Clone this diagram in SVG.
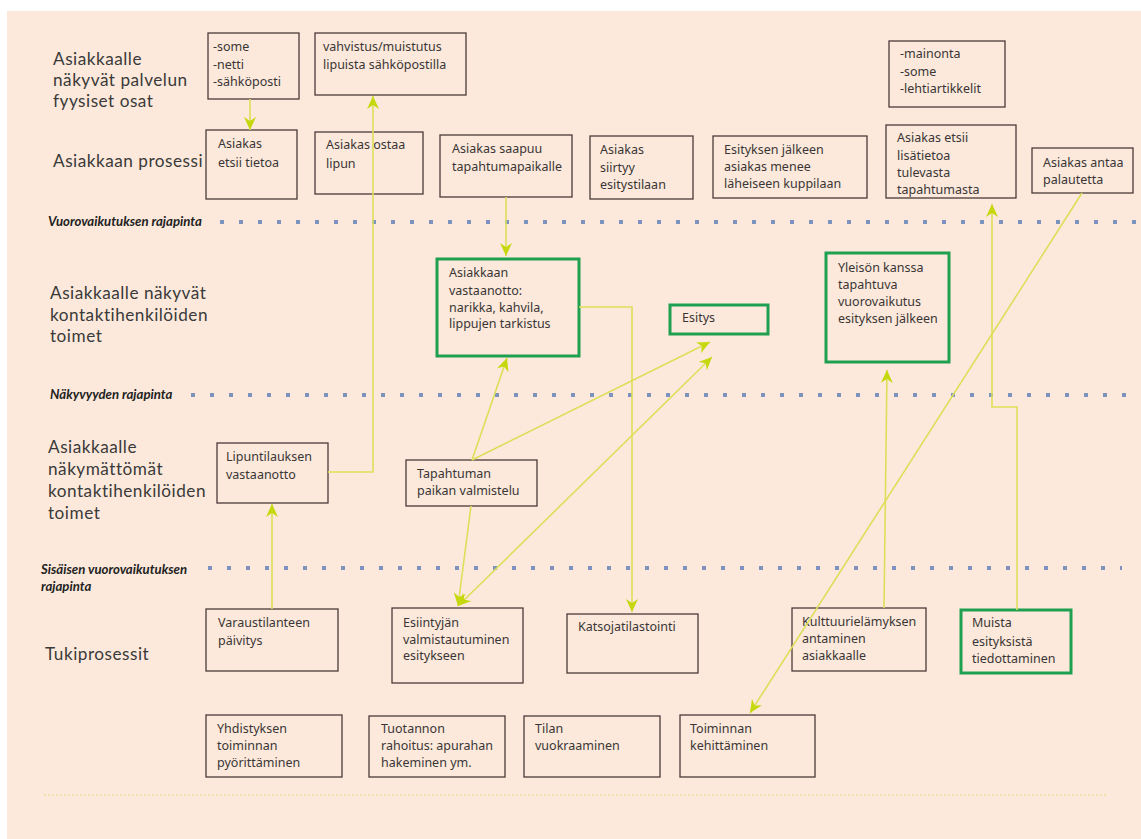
<svg xmlns="http://www.w3.org/2000/svg" width="1141" height="839" viewBox="0 0 1141 839">
  <style>
    .lane { font-family: Lato, "Noto Sans", sans-serif; font-size: 17.2px; letter-spacing: 0.5px; fill: #3a3a3a; }
    .bound { font-family: Lato, "Noto Sans", sans-serif; font-size: 13.2px; font-weight: bold; font-style: italic; fill: #222; }
    .box { fill: none; stroke: #4b3a3a; stroke-width: 1.3; }
    .hi { fill: none; stroke: #1fa050; stroke-width: 3; }
    .t { font-family: "Noto Sans", "Open Sans", sans-serif; font-size: 12.5px; fill: #3a3636; }
    .dots { stroke: #7b93bd; stroke-width: 4; stroke-dasharray: 4 15; fill: none; }
    .link { fill: none; stroke: #dcdf5a; stroke-width: 1.6; }
    .head { marker-end: url(#arr); }
  </style>
  <defs>
    <marker id="arr" markerUnits="userSpaceOnUse" markerWidth="14" markerHeight="12" refX="13" refY="6" orient="auto-start-reverse">
      <path d="M0,0 L13,6 L0,12 L4,6 z" fill="#c5d80e"/>
    </marker>
  </defs>

  <!-- page -->
  <rect width="1141" height="839" fill="#ffffff"/>
  <rect x="7" y="11" width="1134" height="828" fill="#fce9db"/>

  <!-- lane titles -->
  <g id="lanes">
    <text class="lane" x="53" y="65">Asiakkaalle</text>
    <text class="lane" x="53" y="86">näkyvät palvelun</text>
    <text class="lane" x="53" y="107">fyysiset osat</text>
    <text class="lane" x="53" y="167">Asiakkaan prosessi</text>
    <text class="lane" x="50" y="299">Asiakkaalle näkyvät</text>
    <text class="lane" x="50" y="321">kontaktihenkilöiden</text>
    <text class="lane" x="50" y="342">toimet</text>
    <text class="lane" x="48" y="453">Asiakkaalle</text>
    <text class="lane" x="48" y="475">näkymättömät</text>
    <text class="lane" x="48" y="497">kontaktihenkilöiden</text>
    <text class="lane" x="48" y="519">toimet</text>
    <text class="lane" x="45" y="660">Tukiprosessit</text>
  </g>

  <!-- boundary lines -->
  <g id="boundaries">
    <text class="bound" x="48" y="226">Vuorovaikutuksen rajapinta</text>
    <line class="dots" x1="220" y1="222" x2="1137" y2="222"/>
    <text class="bound" x="50" y="399">Näkyvyyden rajapinta</text>
    <line class="dots" x1="191" y1="395" x2="1126" y2="395"/>
    <text class="bound" x="41" y="574">Sisäisen vuorovaikutuksen</text>
    <text class="bound" x="41" y="591">rajapinta</text>
    <line class="dots" x1="208" y1="568" x2="1122" y2="568"/>
    <line x1="44" y1="795" x2="1108" y2="795" stroke="#f3dc9a" stroke-width="1.5" stroke-dasharray="2 2"/>
  </g>

  <!-- physical evidence -->
  <g id="n-some">
    <rect class="box" x="208" y="33" width="91" height="66"/>
    <text class="t" x="213" y="51">-some</text>
    <text class="t" x="213" y="69">-netti</text>
    <text class="t" x="213" y="86">-sähköposti</text>
  </g>
  <g id="n-vahvistus">
    <rect class="box" x="315" y="33" width="151" height="62"/>
    <text class="t" x="323" y="51">vahvistus/muistutus</text>
    <text class="t" x="323" y="69">lipuista sähköpostilla</text>
  </g>
  <g id="n-mainonta">
    <rect class="box" x="889" y="41" width="116" height="66"/>
    <text class="t" x="900" y="58">-mainonta</text>
    <text class="t" x="900" y="76">-some</text>
    <text class="t" x="900" y="93">-lehtiartikkelit</text>
  </g>

  <!-- customer actions -->
  <g id="n-etsii">
    <rect class="box" x="206" y="130" width="91" height="69"/>
    <text class="t" x="218" y="148">Asiakas</text>
    <text class="t" x="218" y="167">etsii tietoa</text>
  </g>
  <g id="n-ostaa">
    <rect class="box" x="315" y="132" width="108" height="62"/>
    <text class="t" x="326" y="149">Asiakas ostaa</text>
    <text class="t" x="326" y="168">lipun</text>
  </g>
  <g id="n-saapuu">
    <rect class="box" x="440" y="135" width="132" height="62"/>
    <text class="t" x="452" y="153">Asiakas saapuu</text>
    <text class="t" x="452" y="171">tapahtumapaikalle</text>
  </g>
  <g id="n-siirtyy">
    <rect class="box" x="590" y="136" width="103" height="63"/>
    <text class="t" x="600" y="154">Asiakas</text>
    <text class="t" x="600" y="172">siirtyy</text>
    <text class="t" x="600" y="189">esitystilaan</text>
  </g>
  <g id="n-kuppila">
    <rect class="box" x="713" y="136" width="154" height="62"/>
    <text class="t" x="724" y="154">Esityksen jälkeen</text>
    <text class="t" x="724" y="171">asiakas menee</text>
    <text class="t" x="724" y="188">läheiseen kuppilaan</text>
  </g>
  <g id="n-lisatietoa">
    <rect class="box" x="886" y="125" width="130" height="73"/>
    <text class="t" x="897" y="142">Asiakas etsii</text>
    <text class="t" x="897" y="160">lisätietoa</text>
    <text class="t" x="897" y="177">tulevasta</text>
    <text class="t" x="897" y="194">tapahtumasta</text>
  </g>
  <g id="n-palaute">
    <rect class="box" x="1032" y="148" width="101" height="45"/>
    <text class="t" x="1043" y="167">Asiakas antaa</text>
    <text class="t" x="1043" y="184">palautetta</text>
  </g>

  <!-- onstage actions -->
  <g id="n-vastaanotto">
    <rect class="hi" x="437" y="259" width="142" height="97"/>
    <text class="t" x="449" y="277">Asiakkaan</text>
    <text class="t" x="449" y="295">vastaanotto:</text>
    <text class="t" x="449" y="312">narikka, kahvila,</text>
    <text class="t" x="449" y="328">lippujen tarkistus</text>
  </g>
  <g id="n-esitys">
    <rect class="hi" x="670" y="305" width="98" height="29"/>
    <text class="t" x="682" y="322">Esitys</text>
  </g>
  <g id="n-yleiso">
    <rect class="hi" x="826" y="253" width="123" height="109"/>
    <text class="t" x="838" y="272">Yleisön kanssa</text>
    <text class="t" x="838" y="289">tapahtuva</text>
    <text class="t" x="838" y="306">vuorovaikutus</text>
    <text class="t" x="838" y="323">esityksen jälkeen</text>
  </g>

  <!-- backstage actions -->
  <g id="n-lipuntilaus">
    <rect class="box" x="217" y="443" width="111" height="60"/>
    <text class="t" x="226" y="461">Lipuntilauksen</text>
    <text class="t" x="226" y="479">vastaanotto</text>
  </g>
  <g id="n-valmistelu">
    <rect class="box" x="406" y="460" width="131" height="46"/>
    <text class="t" x="417" y="478">Tapahtuman</text>
    <text class="t" x="417" y="495">paikan valmistelu</text>
  </g>

  <!-- support processes -->
  <g id="n-varaus">
    <rect class="box" x="206" y="609" width="132" height="62"/>
    <text class="t" x="218" y="627">Varaustilanteen</text>
    <text class="t" x="218" y="645">päivitys</text>
  </g>
  <g id="n-esiintyja">
    <rect class="box" x="392" y="608" width="131" height="75"/>
    <text class="t" x="403" y="627">Esiintyjän</text>
    <text class="t" x="403" y="644">valmistautuminen</text>
    <text class="t" x="403" y="660">esitykseen</text>
  </g>
  <g id="n-tilastointi">
    <rect class="box" x="567" y="614" width="131" height="59"/>
    <text class="t" x="578" y="631">Katsojatilastointi</text>
  </g>
  <g id="n-kulttuuri">
    <rect class="box" x="792" y="608" width="134" height="63"/>
    <text class="t" x="802" y="626">Kulttuurielämyksen</text>
    <text class="t" x="802" y="643">antaminen</text>
    <text class="t" x="802" y="660">asiakkaalle</text>
  </g>
  <g id="n-muista">
    <rect class="hi" x="961" y="610" width="110" height="63"/>
    <text class="t" x="972" y="627">Muista</text>
    <text class="t" x="972" y="646">esityksistä</text>
    <text class="t" x="972" y="663">tiedottaminen</text>
  </g>
  <g id="n-yhdistys">
    <rect class="box" x="206" y="715" width="136" height="62"/>
    <text class="t" x="217" y="733">Yhdistyksen</text>
    <text class="t" x="217" y="750">toiminnan</text>
    <text class="t" x="217" y="767">pyörittäminen</text>
  </g>
  <g id="n-rahoitus">
    <rect class="box" x="369" y="716" width="136" height="61"/>
    <text class="t" x="381" y="733">Tuotannon</text>
    <text class="t" x="381" y="750">rahoitus: apurahan</text>
    <text class="t" x="381" y="767">hakeminen ym.</text>
  </g>
  <g id="n-tila">
    <rect class="box" x="524" y="716" width="136" height="61"/>
    <text class="t" x="535" y="733">Tilan</text>
    <text class="t" x="535" y="750">vuokraaminen</text>
  </g>
  <g id="n-kehitys">
    <rect class="box" x="680" y="715" width="135" height="62"/>
    <text class="t" x="690" y="733">Toiminnan</text>
    <text class="t" x="690" y="750">kehittäminen</text>
  </g>

  <!-- connectors -->
  <g id="connectors">
    <path class="link head" d="M250,99 L250,130"/>
    <path class="link head" d="M328,472 L373,472 L373,96"/>
    <path class="link head" d="M272,609 L272,504"/>
    <path class="link head" d="M506,197 L506,256"/>
    <path class="link head" d="M579,307 L632,307 L632,612"/>
    <path class="link head" d="M472,460 L507,358"/>
    <path class="link head" d="M472,460 L710,342"/>
    <path class="link head" d="M471,506 L458,606"/>
    <path class="link head" d="M458,606 L712,357" marker-start="url(#arr)"/>
    <path class="link head" d="M884,608 L887,370"/>
    <path class="link head" d="M1017,610 L1017,407 L992,407 L992,204"/>
    <path class="link head" d="M1082,193 L750,713"/>
  </g>
</svg>
